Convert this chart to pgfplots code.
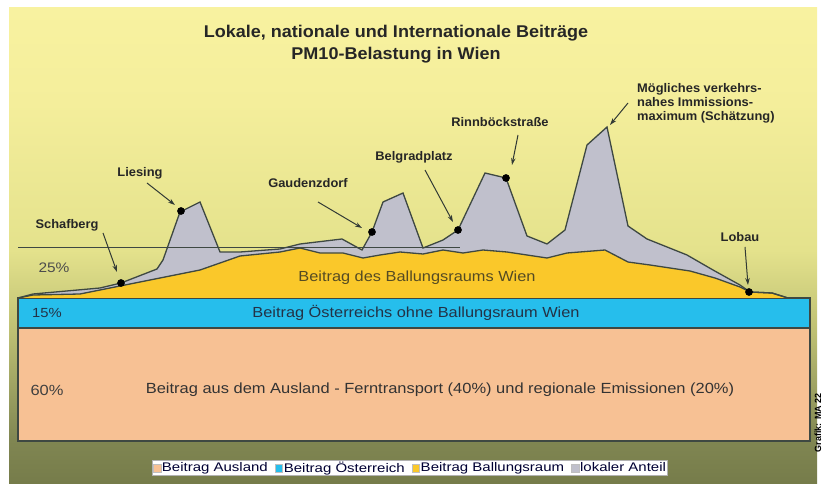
\documentclass[border=0pt]{standalone}
\usepackage{fontspec}
\setmainfont{Liberation Sans}
\newfontfamily\condA[FakeStretch=1.06]{Liberation Sans}
\newfontfamily\condB[FakeStretch=1.03]{Liberation Sans}
\newfontfamily\condC[FakeStretch=1.12]{Liberation Sans}
\newfontfamily\condL[FakeStretch=1.2]{Liberation Sans}
\usepackage{pgfplots}
\pgfplotsset{compat=1.18}
\usetikzlibrary{arrows.meta}

\definecolor{salmon}{RGB}{247,193,148}
\definecolor{cyanb}{RGB}{38,190,236}
\definecolor{yel}{RGB}{250,200,42}
\definecolor{gry}{RGB}{192,192,204}
\definecolor{outl}{RGB}{62,72,66}
\definecolor{olivetext}{RGB}{85,75,35}
\definecolor{bluetext}{RGB}{35,50,70}
\definecolor{c0}{RGB}{118,124,74}
\definecolor{c1}{RGB}{128,134,82}
\definecolor{c2}{RGB}{190,192,115}
\definecolor{c3}{RGB}{228,226,140}
\definecolor{c4}{RGB}{244,238,155}
\definecolor{c5}{RGB}{248,242,160}
\pgfdeclareverticalshading{bg}{100bp}{color(0bp)=(c0); color(25bp)=(c0); color(29.5bp)=(c1); color(41bp)=(c2); color(49.5bp)=(c3); color(65bp)=(c4); color(75bp)=(c5); color(100bp)=(c5)}

\pgfplotstableread{
x y
18 185
33 189
100 195
121 200
157 214
163 223
180 271
200 281
220 231
240 231
280 234
300 239
342 244
362 233
372 251
383 281
403 290
423 235
443 243
458 253
485 310
506 305
527 247
547 239
565 253
587 338
607 356
628 257
647 244
687 228
713 213
740 198
750 191
772 190
788 185
}\lokal

\pgfplotstableread{
x y
18 185
33 188
80 189
100 193
120 197
160 205
200 213
240 227
280 231
300 235
320 230
343 230
363 225
380 228
400 231
423 229
443 233
463 230
483 233
507 231
527 228
547 225
567 230
605 233
628 221
650 218
690 212
715 205
740 196
750 191
772 190
788 185
}\ballung

\begin{document}
\begin{tikzpicture}
\useasboundingbox (0,0) rectangle (823pt,483pt);
\fill[white] (0,0) rectangle (823pt,483pt);
\shade[shading=bg] (9pt,0) rectangle (817pt,475pt);
\begin{axis}[at={(0,0)}, anchor=south west,
  width=823pt, height=483pt, scale only axis,
  xmin=0, xmax=823, ymin=0, ymax=483, hide axis, clip=false,
  legend style={at={(axis cs:410,15)}, anchor=center, legend columns=4,
    font=\condL\fontsize{12.5}{13}\selectfont, text=black!80!blue,
    draw=gray!60, fill=white, inner sep=0.5pt,
    nodes={inner sep=1pt},
    /tikz/every even column/.append style={column sep=6pt}},
  legend image code/.code={\draw[#1] (0pt,-3.8pt) rectangle (7.6pt,3.8pt);},
]
% Ausland
\addplot[fill=salmon, draw=outl, line width=1.2pt, forget plot]
  coordinates {(18,42) (810,42) (810,155) (18,155)} -- cycle;
% Oesterreich
\addplot[fill=cyanb, draw=outl, line width=1.2pt, forget plot]
  coordinates {(18,155) (810,155) (810,185) (18,185)} -- cycle;
% lokaler Anteil
\addplot[fill=gry, draw=none, forget plot] table[x=x,y=y] {\lokal} -- cycle;
% Ballungsraum
\addplot[fill=yel, draw=none, forget plot] table[x=x,y=y] {\ballung} -- cycle;
\addplot[outl, line width=1.3pt, forget plot] table[x=x,y=y] {\ballung};
\addplot[outl, line width=1.3pt, forget plot] table[x=x,y=y] {\lokal};
% 25% line
\addplot[outl, line width=0.9pt, forget plot] coordinates {(18,236) (460,236)};
% points
\addplot[only marks, mark=*, mark size=3.6pt, black, forget plot]
  coordinates {(121,200) (181,272) (372,251) (458,253) (506,305) (749,191)};

\addlegendimage{fill=salmon, draw=gray!50}
\addlegendentry{Beitrag Ausland}
\addlegendimage{fill=cyanb, draw=gray!50}
\addlegendentry{Beitrag Österreich}
\addlegendimage{fill=yel, draw=gray!50}
\addlegendentry{Beitrag Ballungsraum}
\addlegendimage{fill=gry, draw=gray!50}
\addlegendentry{lokaler Anteil}

% arrows
\begin{scope}[outl!80!black, line width=1pt, -{Stealth[length=7pt,width=4.5pt]}]
\draw (axis cs:103,250) -- (axis cs:117,211);
\draw (axis cs:147,300) -- (axis cs:175,278);
\draw (axis cs:318,281) -- (axis cs:362,255);
\draw (axis cs:425,313) -- (axis cs:453,261);
\draw (axis cs:518,348) -- (axis cs:512,318);
\draw (axis cs:628,380) -- (axis cs:610,358);
\draw (axis cs:745,236) -- (axis cs:748,198);
\end{scope}

% labels
\begin{scope}[every node/.style={font=\condB\bfseries\fontsize{12.5}{14}\selectfont, text=black!85, inner sep=0pt}]
\node at (axis cs:67,258) {Schafberg};
\node at (axis cs:140,310) {Liesing};
\node at (axis cs:308,300) {Gaudenzdorf};
\node at (axis cs:414,326) {Belgradplatz};
\node at (axis cs:500,361) {Rinnböckstraße};
\node[anchor=north west, align=left, font=\condB\bfseries\fontsize{12.5}{14}\selectfont] at (axis cs:637,400) {Mögliches verkehrs-\\nahes Immissions-\\maximum (Schätzung)};
\node at (axis cs:740,246) {Lobau};
\end{scope}

\node[font=\condA\bfseries\fontsize{17}{22}\selectfont, align=center, text=black!85] at (axis cs:396,439) {Lokale, nationale und Internationale Beiträge\\PM10-Belastung in Wien};

\node[font=\condC\fontsize{13.8}{15}\selectfont, text=black!70] at (axis cs:54,215) {25\%};
\node[font=\condC\fontsize{13.2}{15}\selectfont, text=bluetext] at (axis cs:47,170) {15\%};
\node[font=\condC\fontsize{14.7}{16}\selectfont, text=black!75] at (axis cs:47,93) {60\%};
\node[font=\condC\fontsize{14.6}{16}\selectfont, text=olivetext] at (axis cs:417,205) {Beitrag des Ballungsraums Wien};
\node[font=\condC\fontsize{14.6}{16}\selectfont, text=bluetext] at (axis cs:416,170) {Beitrag Österreichs ohne Ballungsraum Wien};
\node[font=\condC\fontsize{14.7}{16}\selectfont, text=black!80] at (axis cs:440,93) {Beitrag aus dem Ausland - Ferntransport (40\%) und regionale Emissionen (20\%)};

\node[rotate=90, anchor=east, font=\bfseries\fontsize{9}{10}\selectfont, inner sep=0pt] at (axis cs:818,90) {Grafik: MA 22};
\end{axis}
\end{tikzpicture}
\end{document}
